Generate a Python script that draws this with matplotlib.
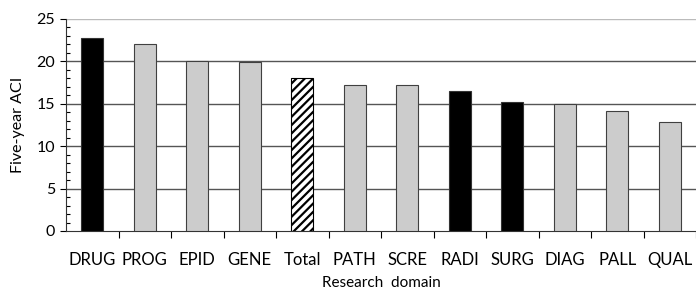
import numpy as np
import matplotlib.pyplot as plt
from matplotlib.ticker import MultipleLocator

domains = ['DRUG', 'PROG', 'EPID', 'GENE', 'Total', 'PATH', 'SCRE',
           'RADI', 'SURG', 'DIAG', 'PALL', 'QUAL']
aci = [22.8, 22.1, 20.0, 19.9, 18.1, 17.2, 17.2, 16.5, 15.25, 15.0, 14.1, 12.9]
kind = ['black', 'grey', 'grey', 'grey', 'total', 'grey', 'grey',
        'black', 'black', 'grey', 'grey', 'grey']

plt.rcParams['font.family'] = ['Lato', 'DejaVu Sans']
plt.rcParams['hatch.linewidth'] = 1.6

fig = plt.figure(figsize=(6.96, 2.93), dpi=100)
ax = fig.add_axes([66 / 696, 1 - 231 / 293, 1 - 66 / 696, (231 - 19) / 293])

x = np.arange(len(domains))
for i, (v, k) in enumerate(zip(aci, kind)):
    if k == 'black':
        ax.bar(x[i], v, width=0.42, color='black', edgecolor='#333333', lw=0.8, zorder=3)
    elif k == 'grey':
        ax.bar(x[i], v, width=0.42, color='#cccccc', edgecolor='#404040', lw=0.8, zorder=3)
    else:
        ax.bar(x[i], v, width=0.42, color='white', edgecolor='black', hatch='////',
               lw=0.8, zorder=3)

ax.set_xlim(-0.5, len(domains) - 0.5)
ax.set_ylim(0, 25)
for g in [5, 10, 15, 20]:
    ax.axhline(g, color='#555555', lw=1.0, zorder=1)
ax.axhline(25, color='#bbbbbb', lw=1.0, zorder=1)

ax.yaxis.set_major_locator(MultipleLocator(5))
ax.yaxis.set_minor_locator(MultipleLocator(1))
ax.tick_params(axis='y', which='major', direction='out', length=4, width=0.8,
               labelsize=11.5, pad=4)
ax.tick_params(axis='y', which='minor', direction='in', length=3, width=0.8)

ax.set_xticks(x)
ax.set_xticklabels(domains, fontsize=12)
ax.tick_params(axis='x', which='major', length=0, pad=15)
ax.set_xticks(np.arange(len(domains)) + 0.5, minor=True)
ax.tick_params(axis='x', which='minor', direction='out', length=5, width=0.8)

for s in ['top', 'right']:
    ax.spines[s].set_visible(False)
ax.spines['left'].set_color('#333333')
ax.spines['bottom'].set_color('#333333')

ax.set_ylabel('Five-year ACI', fontsize=11.5, labelpad=8)
ax.set_xlabel('Research  domain', fontsize=11, labelpad=6)

fig.savefig('out.png', dpi=100)
